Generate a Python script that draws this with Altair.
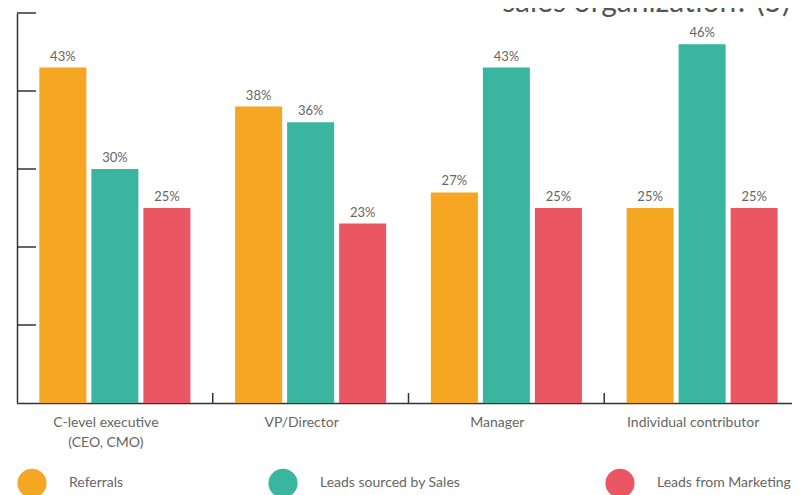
import altair as alt
import pandas as pd

categories = ["C-level executive (CEO, CMO)", "VP/Director", "Manager", "Individual contributor"]
series = ["Referrals", "Leads sourced by Sales", "Leads from Marketing"]
referrals = [43, 38, 27, 25]
sales_leads = [30, 36, 43, 46]
marketing_leads = [25, 23, 25, 25]
colors = ["#F5A623", "#39B5A0", "#EA5662"]
y_ticks = [10, 20, 30, 40, 50]
title_text = "sales organization? (5)"

rows = []
for i, c in enumerate(categories):
    for s, vals in zip(series, [referrals, sales_leads, marketing_leads]):
        rows.append({"category": c, "series": s, "value": vals[i], "label": f"{vals[i]}%"})
df = pd.DataFrame(rows)

FONT = "Lato"
GRAY = "#666666"

x_axis = alt.Axis(
    title=None, ticks=False, domain=True, domainColor="#333333", domainWidth=1.5,
    labelAngle=0, labelFontSize=14, labelColor=GRAY, labelFont=FONT, labelPadding=12,
    labelBaseline="top", labelLineHeight=20, labelOffset=-9,
    labelExpr="indexof(datum.label, ' (') > 0 ? [slice(datum.label, 0, indexof(datum.label, ' (')), slice(datum.label, indexof(datum.label, ' (') + 1)] : datum.label",
)
x_scale = alt.Scale(paddingInner=0, paddingOuter=0)
x_enc = alt.X("category:N", sort=categories, scale=x_scale, axis=x_axis)
y_scale = alt.Scale(domain=[0, 50], nice=False)
y_axis = alt.Axis(title=None, ticks=False, labels=False, grid=False, domain=True,
                  domainColor="#333333", domainWidth=1.5)
x_off = alt.XOffset("series:N", sort=series,
                    scale=alt.Scale(paddingInner=0.096, paddingOuter=0.43))

base = alt.Chart(df)

bars = base.mark_bar().encode(
    x=x_enc,
    xOffset=x_off,
    y=alt.Y("value:Q", scale=y_scale, axis=y_axis),
    color=alt.Color(
        "series:N", sort=series,
        scale=alt.Scale(domain=series, range=colors),
        legend=alt.Legend(
            orient="none", legendX=0, legendY=455, direction="horizontal", title=None,
            symbolType="circle", symbolSize=850, symbolStrokeWidth=0, symbolOpacity=1,
            labelFontSize=14, labelColor=GRAY, labelFont=FONT, labelOffset=22,
            columnPadding=144, padding=0, labelLimit=300,
        ),
    ),
)

labels = base.mark_text(baseline="bottom", dy=-4, fontSize=13, color=GRAY, font=FONT).encode(
    x=x_enc,
    xOffset=x_off,
    y=alt.Y("value:Q", scale=y_scale, axis=y_axis),
    text="label:N",
)

ytick_df = pd.DataFrame({"v": y_ticks})
yticks = alt.Chart(ytick_df).mark_rule(color="#333333", strokeWidth=1.5).encode(
    x=alt.value(0), x2=alt.value(19),
    y=alt.Y("v:Q", scale=y_scale, axis=y_axis),
)

xtick_df = pd.DataFrame({"category": categories})
xticks = alt.Chart(xtick_df).mark_rule(color="#333333", strokeWidth=1.5).encode(
    x=alt.X("category:N", sort=categories, bandPosition=1, scale=x_scale, axis=x_axis),
    y=alt.value(380), y2=alt.value(390),
)

title = alt.Chart(pd.DataFrame({"t": [title_text]})).mark_text(
    align="right", baseline="alphabetic", fontSize=30, color="#555555", font=FONT,
).encode(x=alt.value(773), y=alt.value(-1), text="t:N")

chart = alt.layer(bars, labels, yticks, xticks, title).properties(
    width=783, height=390,
    padding={"left": 9, "top": 5, "right": -8, "bottom": 92},
    autosize=alt.AutoSizeParams(type="none"),
).configure_view(stroke=None)

chart.save("out.html", embed_options={"renderer": "svg", "actions": False})
